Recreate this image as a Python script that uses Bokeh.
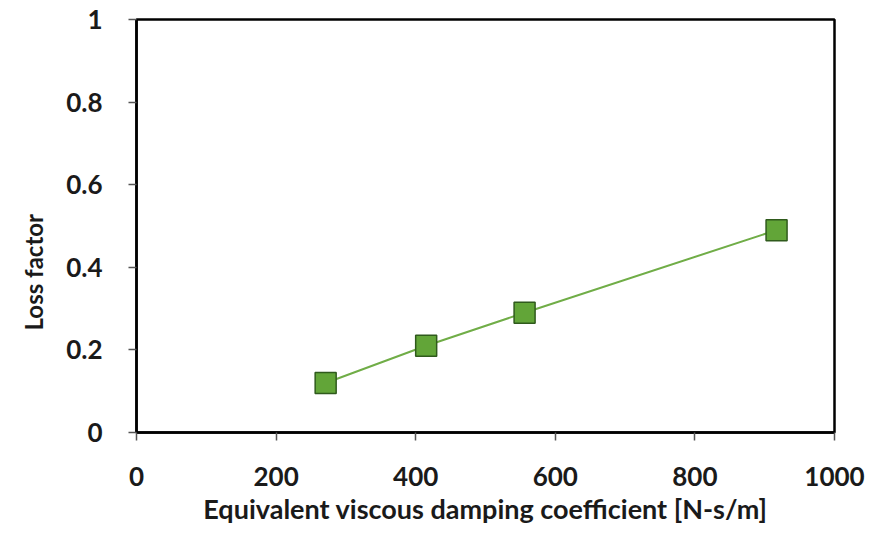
from bokeh.plotting import figure
from bokeh.models import Range1d, FixedTicker, Title
from bokeh.embed import file_html
from bokeh.resources import INLINE

damping = [271, 415, 556, 917]
loss_factor = [0.12, 0.21, 0.29, 0.49]
x_ticks = [0, 200, 400, 600, 800, 1000]
y_ticks = [0, 0.2, 0.4, 0.6, 0.8, 1.0]
y_tick_labels = ["0", "0.2", "0.4", "0.6", "0.8", "1"]
x_title = "Equivalent viscous damping coefficient [N-s/m]"
y_title = "Loss factor"

p = figure(width=871, height=533, output_backend="svg", toolbar_location=None,
           x_range=Range1d(0, 1000), y_range=Range1d(0, 1),
           min_border_left=136, min_border_right=37, min_border_top=19, min_border_bottom=101)

p.line(damping, loss_factor, line_color="#70ad47", line_width=2)
p.scatter(damping, loss_factor, marker="square", size=21, fill_color="#62a538",
          line_color="#2f5a1c", line_width=1.5)

p.grid.visible = False
p.outline_line_color = "black"
p.outline_line_width = 2.5
p.background_fill_color = "white"
p.border_fill_color = "white"

for ax in (p.xaxis[0], p.yaxis[0]):
    ax.axis_line_color = "black"
    ax.axis_line_width = 2.5
    ax.major_tick_line_color = "#555555"
    ax.major_tick_line_width = 1.5
    ax.major_tick_out = 8
    ax.major_tick_in = 0
    ax.minor_tick_line_color = None
    ax.major_label_text_font = "Lato"
    ax.major_label_text_font_style = "bold"
    ax.major_label_text_font_size = "26px"
    ax.major_label_text_color = "#1a1a1a"
    ax.axis_label_text_font = "Lato"
    ax.axis_label_text_font_style = "bold"
    ax.axis_label_text_color = "#1a1a1a"

p.xaxis.axis_label_text_font_size = "27px"
p.xaxis.ticker = FixedTicker(ticks=x_ticks)
p.yaxis.ticker = FixedTicker(ticks=y_ticks)
p.yaxis.major_label_overrides = {t: l for t, l in zip(y_ticks, y_tick_labels)}
p.xaxis.major_label_overrides = {t: str(t) for t in x_ticks}
p.xaxis.major_label_standoff = 26
p.yaxis.major_label_standoff = 26
p.xaxis.axis_label = x_title
p.xaxis.axis_label_standoff = 3

ytitle = Title(text=y_title, align="left", offset=102, standoff=32,
               text_font="Lato", text_font_style="bold", text_font_size="24px",
               text_color="#1a1a1a")
p.add_layout(ytitle, "left")

open("out.html", "w").write(file_html(p, INLINE))
